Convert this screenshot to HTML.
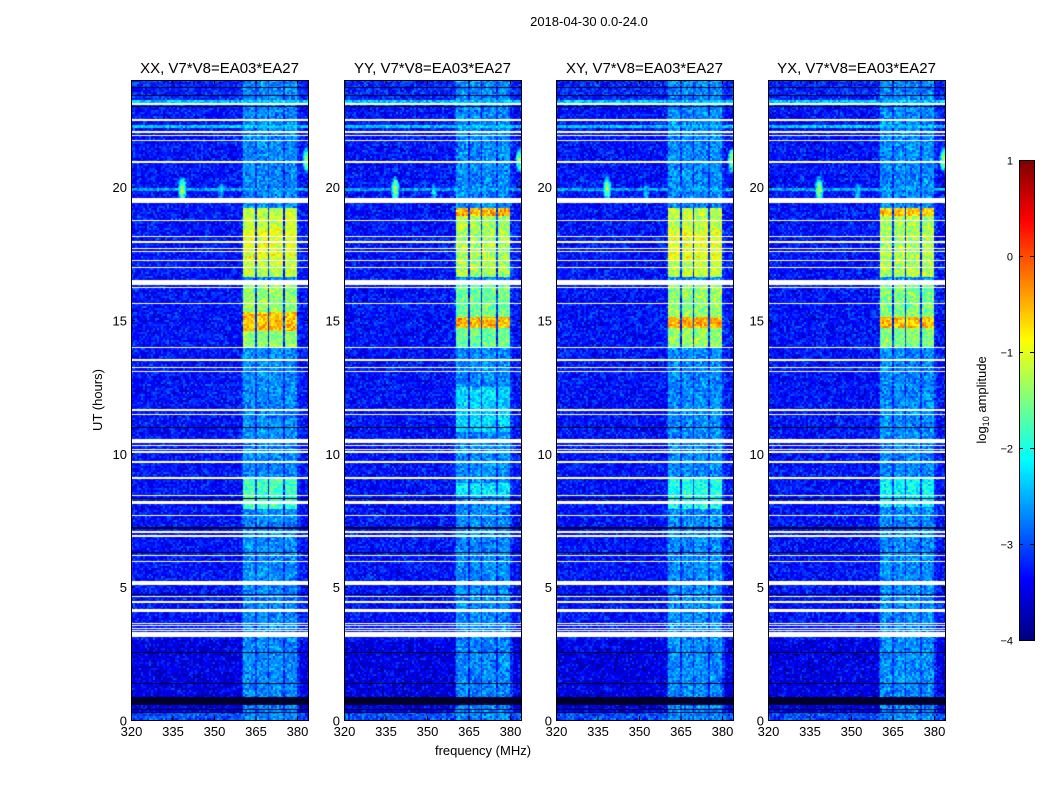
<!DOCTYPE html>
<html><head><meta charset="utf-8">
<style>
body{margin:0;background:#fff;width:1050px;height:800px;overflow:hidden;font-family:"Liberation Sans",sans-serif;}
#root{position:relative;width:1050px;height:800px;}
canvas{position:absolute;}
svg{position:absolute;left:0;top:0;}
</style></head>
<body>
<div id="root">
<svg id="ov" width="1050" height="800"></svg>
</div>
<script>
// ---- data ----
const panelTitles = ["XX, V7*V8=EA03*EA27","YY, V7*V8=EA03*EA27","XY, V7*V8=EA03*EA27","YX, V7*V8=EA03*EA27"];
const xTicks = [320,335,350,365,380];
const yTicks = [0,5,10,15,20];
const cbTicks = [-4,-3,-2,-1,0,1];
const bandEdges = [[360.5,365.0],[365.5,369.5],[370.0,374.9],[375.5,380.0]];
const bandSegsXX = [[0,24,-2.7],[7.9,9.1,-1.8],[14.0,16.3,-1.4],[14.6,15.3,-0.6],[16.6,19.2,-1.2],[17.3,18.4,-1.0]];
const bandSegsYY = [[0,24,-2.7],[8.4,8.9,-2.2],[10.8,12.5,-2.3],[14.0,16.3,-1.6],[14.7,15.1,-0.5],[16.6,19.2,-1.3],[18.9,19.2,-0.5]];
const bandSegsXY = [[0,24,-2.7],[7.9,9.1,-2.0],[14.0,16.3,-1.4],[14.7,15.1,-0.5],[16.6,19.2,-1.2],[17.3,18.4,-1.0]];
const bandSegsYX = [[0,24,-2.7],[8.0,9.1,-2.1],[14.0,16.3,-1.5],[14.7,15.1,-0.6],[16.6,19.2,-1.3],[18.9,19.2,-0.6]];
const bgLevel = -3.3;
const bgSegs = [[0,0.3,-3.0],[0.3,3.0,-3.5],[23.0,24,-3.2]];
const spots = [[338.5,19.9,-1.4],[383.5,21.0,-1.5],[352.5,19.8,-2.3]];
const rfiLines = [[19.9,-2.6],[23.2,-2.4],[22.25,-2.4]];
const whiteFlags = [[23.05,23.12],[22.47,22.52],[22.02,22.07],[21.9,21.95],[21.7,21.75],[20.9,20.95],[19.4,19.58],[18.7,18.75],[18.1,18.15],[17.9,17.95],[17.65,17.7],[17.55,17.6],[17.2,17.25],[16.95,17.0],[16.3,16.5],[16.2,16.24],[15.6,15.65],[13.95,14.0],[13.45,13.55],[13.2,13.25],[13.05,13.1],[11.6,11.65],[11.43,11.48],[10.4,10.55],[10.28,10.33],[10.13,10.18],[10.02,10.07],[9.65,9.7],[9.05,9.1],[8.4,8.45],[8.1,8.2],[7.65,7.7],[7.03,7.08],[6.88,6.93],[6.15,6.2],[5.93,5.98],[5.05,5.2],[4.6,4.65],[4.4,4.48],[4.05,4.15],[3.6,3.65],[3.52,3.56],[3.42,3.46],[3.33,3.37],[3.1,3.3]];
const blackFlags = [[23.7,23.75],[23.4,23.45],[23.0,23.04],[10.95,11.0],[8.3,8.34],[7.18,7.22],[6.25,6.3],[4.7,4.74],[2.5,2.54],[1.35,1.4],[0.55,0.85],[0.38,0.42],[0.25,0.29]];
const panelSegs = [bandSegsXX,bandSegsYY,bandSegsXY,bandSegsYX];
const panelX = [131,344,556,768];

// ---- geometry ----
const PW=177, PH=640, PT=80;
const fx = f => (f-320)*(166/60);
const hy = h => PH - h*(PH/24);
const F0=320;

function jet(v){
  v=Math.max(0,Math.min(1,v));
  const c=x=>Math.max(0,Math.min(1,x));
  return [c(1.5-Math.abs(4*v-3))*255,c(1.5-Math.abs(4*v-2))*255,c(1.5-Math.abs(4*v-1))*255];
}
function hash(a,b,c){let h=(a*374761393+b*668265263+c*2147483647)|0;h=(h^(h>>>13))*1274126177|0;h^=h>>>16;return (h>>>0)/4294967296;}
const inRanges=(h,arr)=>arr.some(r=>h>=r[0]&&h<r[1]);

const root=document.getElementById('root');
panelSegs.forEach((segs,p)=>{
  const cv=document.createElement('canvas');
  cv.width=PW;cv.height=PH;cv.style.left=panelX[p]+'px';cv.style.top=PT+'px';
  
  
  root.insertBefore(cv,document.getElementById('ov'));
  const ctx=cv.getContext('2d');const img=ctx.createImageData(PW,PH);
  for(let y=0;y<PH;y++){
    const h=(PH-y-0.5)*24/PH;
    const white=inRanges(h,whiteFlags), black=inRanges(h,blackFlags);
    for(let x=0;x<PW;x++){
      const f=F0+(x+0.5)*60/166;
      let i=(y*PW+x)*4;
      if(white){img.data[i]=img.data[i+1]=img.data[i+2]=255;img.data[i+3]=255;continue;}
      if(black){img.data[i]=0;img.data[i+1]=0;img.data[i+2]=40;img.data[i+3]=255;continue;}
      let v=bgLevel;
      bgSegs.forEach(s=>{if(h>=s[0]&&h<s[1])v=s[2];});
      rfiLines.forEach(r=>{if(Math.abs(h-r[0])<0.06)v=Math.max(v,r[1]);});
      const inBand=bandEdges.some(b=>f>=b[0]&&f<b[1]);
      if(f>=360&&f<381){
        let bv=-3.15;
        if(inBand){bv=-3.0;segs.forEach(s=>{if(h>=s[0]&&h<s[1])bv=Math.max(bv,s[2]);});}
        v=Math.max(v,bv);
      }
      spots.forEach(s=>{const dx=(f-s[0])/0.8,dy=(h-s[1])/0.25;const d=dx*dx+dy*dy;if(d<4)v=Math.max(v,s[2]-d*0.4);});
      const bx=x>>1,by=y>>1;
      const n=(hash(bx,by,p)+hash(bx+7,by+3,p+11)-1)*0.55;
      v+=n;
      const c=jet((v+4)/5);
      img.data[i]=c[0];img.data[i+1]=c[1];img.data[i+2]=c[2];img.data[i+3]=255;
    }
  }
  ctx.putImageData(img,0,0);
});

// colorbar
const cb=document.createElement('canvas');cb.width=15;cb.height=480;cb.style.left='1019px';cb.style.top='160px';


root.insertBefore(cb,document.getElementById('ov'));
const cctx=cb.getContext('2d');
for(let y=0;y<480;y++){const c=jet(1-y/479);cctx.fillStyle=`rgb(${c[0]|0},${c[1]|0},${c[2]|0})`;cctx.fillRect(0,y,15,1);}

// overlay
const NS='http://www.w3.org/2000/svg', ov=document.getElementById('ov');
function el(tag,attrs,txt){const e=document.createElementNS(NS,tag);for(const k in attrs)e.setAttribute(k,attrs[k]);if(txt!==undefined)e.textContent=txt;ov.appendChild(e);return e;}
panelX.forEach((px,p)=>{
  const fr=el('rect',{x:px+0.5,y:PT+0.5,width:PW,height:PH,fill:'none',stroke:'#000','stroke-width':1});
  
  
  const t=el('text',{x:px+PW/2,y:PT-7,'text-anchor':'middle','font-size':15},panelTitles[p]);
  
  
  xTicks.forEach(v=>{const x=px+fx(v)+0.5;
    el('line',{x1:x,x2:x,y1:PT+PH,y2:PT+PH-4,stroke:'#000'});
    el('line',{x1:x,x2:x,y1:PT,y2:PT+4,stroke:'#000'});
    const tl=el('text',{x:x,y:PT+PH+16,'text-anchor':'middle','font-size':13},String(v));
    
    
  });
  yTicks.forEach(v=>{const y=PT+hy(v)+0.5;
    el('line',{x1:px,x2:px+4,y1:y,y2:y,stroke:'#000'});
    el('line',{x1:px+PW,x2:px+PW-4,y1:y,y2:y,stroke:'#000'});
    const tl=el('text',{x:px-4,y:y+5,'text-anchor':'end','font-size':13},String(v));
    
    
  });
});
const cbf=el('rect',{x:1019.5,y:160.5,width:15,height:480,fill:'none',stroke:'#000'});


cbTicks.forEach(v=>{const y=160+(1-v)*96+0.5;
  el('line',{x1:1019,x2:1023,y1:y,y2:y,stroke:'#000'});el('line',{x1:1030,x2:1034,y1:y,y2:y,stroke:'#000'});
  const tl=el('text',{x:1013,y:y+4,'text-anchor':'end','font-size':11},v<0?'\u2212'+(-v):String(v));
  
  
});
const st=el('text',{x:589,y:26,'text-anchor':'middle','font-size':13},'2018-04-30 0.0-24.0');


const xl=el('text',{x:483,y:755,'text-anchor':'middle','font-size':13},'frequency (MHz)');


const yl=el('text',{x:0,y:0,'text-anchor':'middle','font-size':13,transform:'translate(102,400) rotate(-90)'},'UT (hours)');


const cl=el('text',{x:0,y:0,'text-anchor':'middle','font-size':13,transform:'translate(986,400) rotate(-90)'});


const t1=document.createElementNS(NS,'tspan');t1.textContent='log';cl.appendChild(t1);
const t2=document.createElementNS(NS,'tspan');t2.setAttribute('font-size','9');t2.setAttribute('dy','3');t2.textContent='10';cl.appendChild(t2);
const t3=document.createElementNS(NS,'tspan');t3.setAttribute('dy','-3');t3.textContent=' amplitude';cl.appendChild(t3);
</script>
</body></html>
